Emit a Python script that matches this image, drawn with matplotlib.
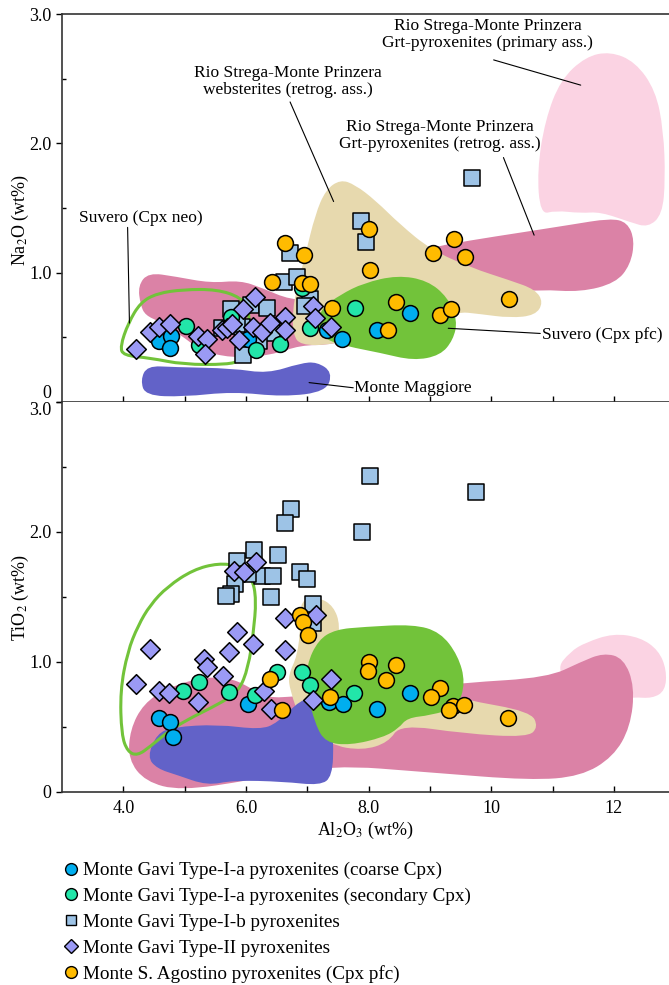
import numpy as np
import matplotlib
matplotlib.use("Agg")
import matplotlib.pyplot as plt
from matplotlib.path import Path
from matplotlib.patches import PathPatch
from matplotlib.lines import Line2D

plt.rcParams['font.family'] = ['Liberation Serif', 'DejaVu Serif']
plt.rcParams['mathtext.fontset'] = 'stix'

# --- point data: (Al2O3, Na2O) top panel, (Al2O3, TiO2) bottom panel ---
coarse_al_na = [4.59, 4.78, 4.76, 6.03, 7.33, 7.57, 8.13, 8.68]
coarse_na = [0.47, 0.51, 0.42, 0.49, 0.56, 0.49, 0.56, 0.69]
coarse_al_ti = [4.59, 4.76, 4.81, 6.03, 7.35, 7.58, 8.14, 8.68]
coarse_ti = [0.57, 0.54, 0.42, 0.68, 0.69, 0.68, 0.64, 0.76]

second_al_na = [5.03, 5.24, 5.76, 6.17, 6.55, 7.05, 6.91, 7.78]
second_na = [0.59, 0.44, 0.66, 0.40, 0.45, 0.57, 0.88, 0.73]
second_al_ti = [4.98, 5.24, 5.73, 6.14, 6.51, 6.92, 7.04, 7.76]
second_ti = [0.78, 0.85, 0.77, 0.75, 0.92, 0.92, 0.82, 0.76]

typeib_al_na = [5.75, 5.61, 5.94, 6.08, 6.35, 6.43, 6.21, 5.96, 6.62, 6.84,
                6.72, 7.05, 6.97, 7.87, 7.96, 9.69, 5.85]
typeib_na = [0.72, 0.57, 0.58, 0.75, 0.73, 0.53, 0.47, 0.36, 0.93, 0.97,
             1.15, 0.80, 0.74, 1.40, 1.24, 1.73, 0.60]
typeib_al_ti = [6.74, 6.64, 6.13, 6.52, 5.85, 6.88, 7.00, 6.26, 6.44, 6.03,
                5.82, 5.75, 5.67, 6.41, 7.09, 7.09, 8.02, 9.75, 7.90]
typeib_ti = [2.18, 2.07, 1.86, 1.82, 1.78, 1.69, 1.64, 1.66, 1.66, 1.68,
             1.60, 1.52, 1.51, 1.50, 1.45, 1.30, 2.43, 2.31, 2.00]

typeii_al_na = [4.20, 4.43, 4.59, 4.76, 5.21, 5.37, 5.34, 5.61, 5.69, 5.77,
                5.88, 5.95, 6.14, 6.11, 6.26, 6.40, 6.63, 6.64, 7.10, 7.13, 7.38]
typeii_na = [0.41, 0.54, 0.58, 0.60, 0.51, 0.49, 0.37, 0.56, 0.57, 0.60,
             0.48, 0.72, 0.81, 0.58, 0.54, 0.61, 0.66, 0.56, 0.74, 0.65, 0.58]
typeii_al_ti = [4.20, 4.43, 4.59, 4.74, 5.22, 5.32, 5.37, 5.63, 5.72, 5.86,
                6.12, 6.29, 6.41, 6.63, 6.63, 7.09, 7.15, 7.39, 5.80, 5.97, 6.17]
typeii_ti = [0.83, 1.10, 0.78, 0.76, 0.69, 1.02, 0.96, 0.89, 1.08, 1.23,
             1.14, 0.78, 0.64, 1.34, 1.09, 0.71, 1.36, 0.87, 1.70, 1.69, 1.77]

agost_al_na = [6.63, 6.94, 6.43, 6.91, 7.04, 7.40, 8.01, 8.02, 9.05, 9.39,
               9.58, 10.29, 8.45, 9.17, 9.35, 8.31]
agost_na = [1.23, 1.14, 0.93, 0.92, 0.91, 0.73, 1.34, 1.02, 1.15, 1.26,
            1.12, 0.80, 0.77, 0.67, 0.72, 0.56]
agost_al_ti = [6.88, 6.93, 7.02, 6.40, 6.59, 7.37, 8.00, 7.99, 8.44, 8.29,
               9.16, 9.02, 9.38, 9.31, 9.56, 10.27]
agost_ti = [1.36, 1.31, 1.21, 0.87, 0.63, 0.73, 1.00, 0.93, 0.98, 0.86,
            0.80, 0.73, 0.66, 0.63, 0.67, 0.57]

# --- literature fields (outline vertices, Al2O3 / oxide) ---
rs_primary_na = [(10.80, 1.45), (10.75, 1.79), (10.88, 2.18), (11.13, 2.49), (11.54, 2.67),
                 (11.94, 2.71), (12.35, 2.63), (12.68, 2.41), (12.81, 2.10), (12.84, 1.72),
                 (12.79, 1.45), (12.56, 1.35), (12.27, 1.39), (11.78, 1.47), (11.46, 1.46),
                 (11.05, 1.48)]
rs_retro_na = [(4.28, 0.75), (4.24, 0.90), (4.41, 1.00), (4.85, 0.97), (5.42, 0.92),
               (5.91, 0.94), (6.27, 0.88), (6.72, 0.79), (7.21, 0.79), (8.85, 1.18),
               (9.66, 1.25), (10.48, 1.31), (11.29, 1.37), (11.94, 1.42), (12.22, 1.39),
               (12.34, 1.25), (12.27, 1.06), (12.03, 0.92), (11.46, 0.85), (10.80, 0.87),
               (10.15, 0.84), (9.50, 0.75), (8.52, 0.56), (7.38, 0.44), (6.89, 0.44),
               (6.40, 0.36), (5.75, 0.34), (5.26, 0.40), (4.93, 0.52), (4.60, 0.62),
               (4.36, 0.67)]
rs_webst_na = [(6.77, 0.52), (6.76, 0.71), (6.84, 0.90), (6.97, 1.14), (7.13, 1.45),
               (7.30, 1.64), (7.54, 1.72), (7.78, 1.68), (8.11, 1.56), (8.52, 1.37),
               (9.01, 1.18), (9.66, 1.04), (10.31, 0.94), (10.72, 0.87), (10.85, 0.77),
               (10.72, 0.67), (10.31, 0.65), (9.82, 0.68), (9.42, 0.70), (8.52, 0.56),
               (7.38, 0.44), (6.89, 0.44)]
suvero_pfc_na = [(7.13, 0.60), (7.25, 0.73), (7.54, 0.83), (7.92, 0.92), (8.47, 0.98),
                 (8.96, 0.94), (9.29, 0.81), (9.45, 0.63), (9.38, 0.48), (9.17, 0.36),
                 (8.73, 0.32), (8.19, 0.38), (7.65, 0.43), (7.30, 0.48)]
maggiore_na = [(4.28, 0.17), (4.39, 0.28), (4.82, 0.27), (5.79, 0.26), (6.35, 0.22),
               (6.89, 0.30), (7.16, 0.31), (7.41, 0.23), (7.31, 0.08), (6.61, 0.04),
               (5.79, 0.08), (4.98, 0.04), (4.36, 0.05)]
suvero_neo_na = [(3.95, 0.43), (4.08, 0.61), (4.28, 0.77), (4.55, 0.84), (4.98, 0.87),
                 (5.53, 0.87), (5.91, 0.81), (6.06, 0.71), (6.04, 0.48), (5.91, 0.32),
                 (5.70, 0.29), (4.98, 0.29), (4.44, 0.34), (4.00, 0.36)]

rs_primary_ti = [(11.05, 0.94), (11.29, 1.08), (11.54, 1.15), (11.99, 1.22), (12.43, 1.19),
                 (12.73, 1.09), (12.86, 0.94), (12.84, 0.78), (12.63, 0.72), (12.32, 0.73),
                 (11.94, 0.71), (11.46, 0.71)]
rs_retro_ti = [(4.08, 0.25), (4.11, 0.48), (4.33, 0.68), (4.72, 0.80), (5.26, 0.88),
               (5.70, 0.88), (6.02, 0.82), (6.32, 0.72), (6.89, 0.74), (7.70, 0.75),
               (8.85, 0.80), (9.55, 0.84), (10.92, 0.88), (11.46, 1.00), (11.83, 1.07),
               (12.16, 1.03), (12.34, 0.81), (12.27, 0.50), (11.99, 0.27), (11.46, 0.12),
               (10.64, 0.09), (9.01, 0.15), (7.38, 0.21), (6.07, 0.09), (4.93, 0.01),
               (4.36, 0.08)]
rs_webst_ti = [(6.89, 1.48), (7.18, 1.50), (7.43, 1.43), (7.54, 1.28), (7.46, 1.09),
               (8.36, 0.86), (9.55, 0.71), (10.64, 0.62), (10.77, 0.50), (10.59, 0.42),
               (9.55, 0.45), (8.52, 0.52), (8.32, 0.38), (7.90, 0.32), (7.38, 0.36),
               (6.89, 0.55), (6.72, 0.78), (6.69, 0.90), (6.84, 1.05), (6.89, 1.28)]
suvero_pfc_ti = [(7.18, 1.17), (7.46, 1.25), (7.92, 1.27), (8.73, 1.29), (9.17, 1.23),
                 (9.46, 1.05), (9.58, 0.84), (9.45, 0.65), (9.01, 0.59), (8.63, 0.57),
                 (8.49, 0.49), (8.24, 0.42), (7.70, 0.36), (7.30, 0.38), (7.13, 0.52),
                 (6.99, 0.78), (6.99, 0.98)]
maggiore_ti = [(4.39, 0.27), (4.55, 0.45), (4.82, 0.50), (5.53, 0.52), (6.23, 0.48),
               (6.51, 0.53), (6.89, 0.71), (7.16, 0.73), (7.38, 0.67), (7.43, 0.40),
               (7.41, 0.12), (7.21, 0.05), (6.61, 0.08), (5.79, 0.09), (5.37, 0.05),
               (4.88, 0.13), (4.55, 0.18)]
suvero_neo_ti = [(3.95, 0.78), (3.97, 0.44), (4.07, 0.31), (4.23, 0.28), (4.44, 0.35),
                 (4.77, 0.48), (5.14, 0.58), (5.53, 0.67), (5.88, 0.77), (6.04, 0.96),
                 (6.12, 1.22), (6.17, 1.48), (6.10, 1.65), (5.88, 1.74), (5.55, 1.76),
                 (5.14, 1.71), (4.72, 1.58), (4.44, 1.44), (4.24, 1.28), (4.07, 1.08)]

# field labels: text, text position, leader start, leader end, alignment
labels_na = [
    ("Rio Strega-Monte Prinzera\nGrt-pyroxenites (primary ass.)", (9.94, 2.84), (10.04, 2.645), (11.46, 2.45), 'center'),
    ("Rio Strega-Monte Prinzera\nwebsterites (retrog. ass.)", (6.69, 2.48), (6.72, 2.32), (7.43, 1.55), 'center'),
    ("Rio Strega-Monte Prinzera\nGrt-pyroxenites (retrog. ass.)", (9.17, 2.06), (10.20, 1.89), (10.70, 1.29), 'center'),
    ("Suvero (Cpx neo)", (4.28, 1.42), (4.07, 1.35), (4.10, 0.61), 'center'),
    ("Suvero (Cpx pfc)", (10.83, 0.52), (10.80, 0.53), (9.30, 0.57), 'left'),
    ("Monte Maggiore", (7.77, 0.11), (7.75, 0.11), (7.03, 0.15), 'left'),
]

C_PRIMARY = '#FBD3E3'
C_RETRO = '#DB82A6'
C_WEBST = '#E7D9AE'
C_SUV = '#72C33A'
C_MAGG = '#6262C8'


def smooth_patch(pts, **kw):
    # closed quadratic B-spline through polygon midpoints
    p = np.asarray(pts, dtype=float)
    n = len(p)
    mids = (p + np.roll(p, -1, axis=0)) / 2
    verts = [mids[-1]]
    codes = [Path.MOVETO]
    for i in range(n):
        verts += [p[i], mids[i]]
        codes += [Path.CURVE3, Path.CURVE3]
    verts.append(mids[-1])
    codes.append(Path.CLOSEPOLY)
    return PathPatch(Path(verts, codes), **kw)


def draw_fields(ax, primary, retro, webst, suv, magg, neo):
    ax.add_patch(smooth_patch(primary, facecolor=C_PRIMARY, edgecolor='none', zorder=1))
    ax.add_patch(smooth_patch(retro, facecolor=C_RETRO, edgecolor='none', zorder=1.1))
    ax.add_patch(smooth_patch(webst, facecolor=C_WEBST, edgecolor='none', zorder=1.2))
    ax.add_patch(smooth_patch(magg, facecolor=C_MAGG, edgecolor='none', zorder=1.3))
    ax.add_patch(smooth_patch(suv, facecolor=C_SUV, edgecolor='none', zorder=1.4))
    ax.add_patch(smooth_patch(neo, facecolor='none', edgecolor=C_SUV, lw=2.2, zorder=1.5))


def draw_points(ax, sets):
    for xs, ys, m, c, s in sets:
        ax.scatter(xs, ys, marker=m, s=s, facecolor=c, edgecolor='black',
                   linewidths=1.1, zorder=3)


fig = plt.figure(figsize=(6.69, 9.85), dpi=100)
ax1 = fig.add_axes([62 / 669, 1 - 402 / 985, 607 / 669, 388 / 985])
ax2 = fig.add_axes([62 / 669, 1 - 792 / 985, 607 / 669, 390 / 985])

draw_fields(ax1, rs_primary_na, rs_retro_na, rs_webst_na, suvero_pfc_na, maggiore_na, suvero_neo_na)
draw_fields(ax2, rs_primary_ti, rs_retro_ti, rs_webst_ti, suvero_pfc_ti, maggiore_ti, suvero_neo_ti)

draw_points(ax1, [
    (typeib_al_na, typeib_na, 's', '#9DC3E6', 120),
    (coarse_al_na, coarse_na, 'o', '#00AEEF', 130),
    (second_al_na, second_na, 'o', '#22E6A9', 130),
    (typeii_al_na, typeii_na, 'D', '#9B9AF5', 100),
    (agost_al_na, agost_na, 'o', '#FFBB00', 130),
])
draw_points(ax2, [
    (typeib_al_ti, typeib_ti, 's', '#9DC3E6', 120),
    (coarse_al_ti, coarse_ti, 'o', '#00AEEF', 130),
    (second_al_ti, second_ti, 'o', '#22E6A9', 130),
    (typeii_al_ti, typeii_ti, 'D', '#9B9AF5', 100),
    (agost_al_ti, agost_ti, 'o', '#FFBB00', 130),
])

for txt, tpos, lstart, lend, ha in labels_na:
    ax1.text(tpos[0], tpos[1], txt, ha=ha, va='center', fontsize=12.5,
             linespacing=1.05, zorder=4)
    ax1.annotate('', xy=lend, xytext=lstart,
                 arrowprops=dict(arrowstyle='-', lw=0.8, color='black',
                                 shrinkA=0, shrinkB=0), zorder=4)

xt = list(range(4, 13))
xtl = ['4.0', '', '6.0', '', '8.0', '', '10', '', '12']
for ax in (ax1, ax2):
    ax.set_xlim(3.0, 12.9)
    ax.set_ylim(0, 3.0)
    ax.set_xticks(xt)
    ax.set_yticks([0, 1, 2, 3])
    ax.set_yticks([0.5, 1.5, 2.5], minor=True)
    ax.spines['right'].set_visible(False)
    for s in ('left', 'bottom', 'top'):
        ax.spines[s].set_linewidth(1.2)
        ax.spines[s].set_color('#333333')
    ax.tick_params(axis='x', direction='in', length=4, width=1, labelsize=13, pad=6)
    ax.tick_params(axis='y', which='major', direction='out', length=4, width=1, labelsize=13)
    ax.tick_params(axis='y', which='minor', direction='in', length=3, width=1)

ax1.set_xticklabels([])
ax1.set_yticklabels(['0', '1.0', '2.0', '3.0'])
ax1.get_yticklabels()[0].set_va('bottom')
ax2.set_xticklabels(xtl)
ax2.set_yticklabels(['0', '1.0', '2.0', '3.0'])
ax2.get_yticklabels()[3].set_va('top')
ax2.spines['top'].set_visible(False)

ax1.set_ylabel('Na$_2$O (wt%)', fontsize=13)
ax2.set_ylabel('TiO$_2$ (wt%)', fontsize=13)
ax1.yaxis.set_label_coords(-0.051, 0.47)
ax2.yaxis.set_label_coords(-0.051, 0.50)
ax2.set_xlabel('Al$_2$O$_3$ (wt%)', fontsize=13, labelpad=2)

legend_names = ['Monte Gavi Type-I-a pyroxenites (coarse Cpx)',
                'Monte Gavi Type-I-a pyroxenites (secondary Cpx)',
                'Monte Gavi Type-I-b pyroxenites',
                'Monte Gavi Type-II pyroxenites',
                'Monte S. Agostino pyroxenites (Cpx pfc)']
legend_style = [('o', '#00AEEF', 8.5), ('o', '#22E6A9', 8.5), ('s', '#9DC3E6', 7.5),
                ('D', '#9B9AF5', 7), ('o', '#FFBB00', 8.5)]
handles = [Line2D([], [], ls='none', marker=m, markerfacecolor=c, markeredgecolor='black',
                  markeredgewidth=1.0, markersize=ms) for m, c, ms in legend_style]
fig.legend(handles, legend_names, loc='upper left', bbox_to_anchor=(64 / 669, 1 - 862 / 985),
           frameon=False, fontsize=13.8, handlelength=0.7, handletextpad=0.3,
           labelspacing=0.43, borderaxespad=0, borderpad=0)

fig.savefig('out.png', dpi=100)
